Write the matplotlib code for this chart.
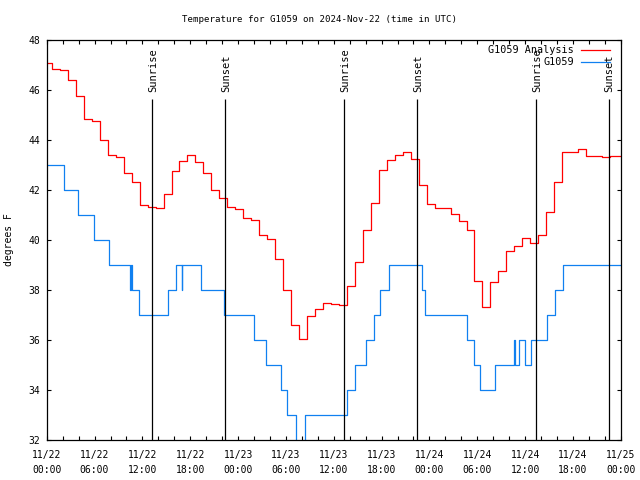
import numpy as np
import matplotlib
matplotlib.use("Agg")
import matplotlib.pyplot as plt

plt.rcParams['font.family'] = ['DejaVu Sans Mono']

# hourly analysis (red), value held from each step time to the next
red_vals = [47.07, 46.84, 46.80, 46.39, 45.75, 44.83, 44.76, 44.00, 43.39, 43.32,
            42.69, 42.33, 41.40, 41.31, 41.27, 41.84, 42.75, 43.15, 43.39, 43.11,
            42.67, 41.99, 41.67, 41.32, 41.25, 40.87, 40.80, 40.20, 40.04, 39.23,
            38.00, 36.60, 36.04, 36.95, 37.24, 37.47, 37.43, 37.39, 38.16, 39.11,
            40.40, 41.48, 42.79, 43.19, 43.39, 43.51, 43.24, 42.20, 41.43, 41.27,
            41.27, 41.04, 40.75, 40.39, 38.36, 37.31, 38.31, 38.75, 39.55, 39.75,
            40.07, 39.87, 40.19, 41.11, 42.31, 43.51, 43.51, 43.63, 43.36, 43.36,
            43.31, 43.36, 43.36]
red_offset = 0.65  # analysis steps change at hh:39

# station observations (blue): hours since 11/22 00:00 UTC where value changes
obs_hours = [0.0, 2.17, 3.97, 5.97, 7.85, 10.48, 10.56, 10.64, 11.57, 15.18,
             16.21, 16.91, 17.01, 19.41, 22.23, 26.03, 27.53, 29.41, 30.19, 31.26,
             32.45, 37.71, 38.69, 40.01, 41.01, 41.83, 42.95, 47.09, 47.49, 52.76,
             53.61, 54.39, 56.21, 58.56, 58.78, 59.28, 59.97, 60.78, 62.76, 63.77,
             64.73]
obs_vals = [43, 42, 41, 40, 39, 38, 39, 38, 37, 38,
            39, 38, 39, 38, 37, 36, 35, 34, 33, 31,
            33, 34, 35, 36, 37, 38, 39, 38, 37, 36,
            35, 34, 35, 36, 35, 36, 35, 36, 37, 38,
            39]

sun_hours = [13.24, 22.39, 37.31, 46.47, 61.38, 70.46]
sun_labels = ["Sunrise", "Sunset", "Sunrise", "Sunset", "Sunrise", "Sunset"]

xtick_hours = [0, 6, 12, 18, 24, 30, 36, 42, 48, 54, 60, 66, 72]
xtick_labels = ["11/22\n00:00", "11/22\n06:00", "11/22\n12:00", "11/22\n18:00",
                "11/23\n00:00", "11/23\n06:00", "11/23\n12:00", "11/23\n18:00",
                "11/24\n00:00", "11/24\n06:00", "11/24\n12:00", "11/24\n18:00",
                "11/25\n00:00"]
yticks = [32, 34, 36, 38, 40, 42, 44, 46, 48]

red_c = '#ff0000'
blue_c = '#1080f0'
fs = 7.0

fig = plt.figure(figsize=(6.4, 4.8), dpi=100)
ax = fig.add_axes([0.073, 0.0833, 0.897, 0.8334])

red_t = np.concatenate([[0.0], np.arange(72) + red_offset])
ax.step(np.append(red_t, 72), np.append(red_vals, red_vals[-1]), where='post',
        color=red_c, lw=0.9)
ax.step(np.append(obs_hours, 72), np.append(obs_vals, obs_vals[-1]), where='post',
        color=blue_c, lw=0.9)

line_top = 45.64
for h, lab in zip(sun_hours, sun_labels):
    ax.vlines(h, 32, line_top, color='black', lw=0.9)
    ax.text(h + 0.1, 45.92, lab, rotation=90, ha='center', va='bottom', fontsize=7.5)

ax.set_xlim(0, 72)
ax.set_ylim(32, 48)
ax.set_xticks(xtick_hours)
ax.set_xticklabels(xtick_labels, fontsize=fs, linespacing=1.6)
ax.set_xticks(np.arange(0, 73, 2), minor=True)
ax.set_yticks(yticks)
ax.set_yticklabels([str(v) for v in yticks], fontsize=fs)
ax.tick_params(which='both', direction='in', top=True, right=True, length=3.2,
               width=0.8, color='black')
ax.tick_params(axis='x', which='major', pad=7)
ax.tick_params(axis='y', which='major', pad=5)
for s in ax.spines.values():
    s.set_linewidth(0.9)

ax.set_ylabel("degrees F", fontsize=fs, labelpad=10)

# key, top right
ax.text(0.918, 0.975, "G1059 Analysis", transform=ax.transAxes, ha='right',
        va='center', fontsize=7.3)
ax.plot([0.9305, 0.981], [0.975, 0.975], transform=ax.transAxes, color=red_c, lw=0.9)
ax.text(0.918, 0.944, "G1059", transform=ax.transAxes, ha='right',
        va='center', fontsize=7.3)
ax.plot([0.9305, 0.981], [0.944, 0.944], transform=ax.transAxes, color=blue_c, lw=0.9)

fig.text(0.5, 1 - 19 / 480, "Temperature for G1059 on 2024-Nov-22 (time in UTC)",
         ha='center', va='center', fontsize=6.6)

fig.savefig("out.png", dpi=100)
